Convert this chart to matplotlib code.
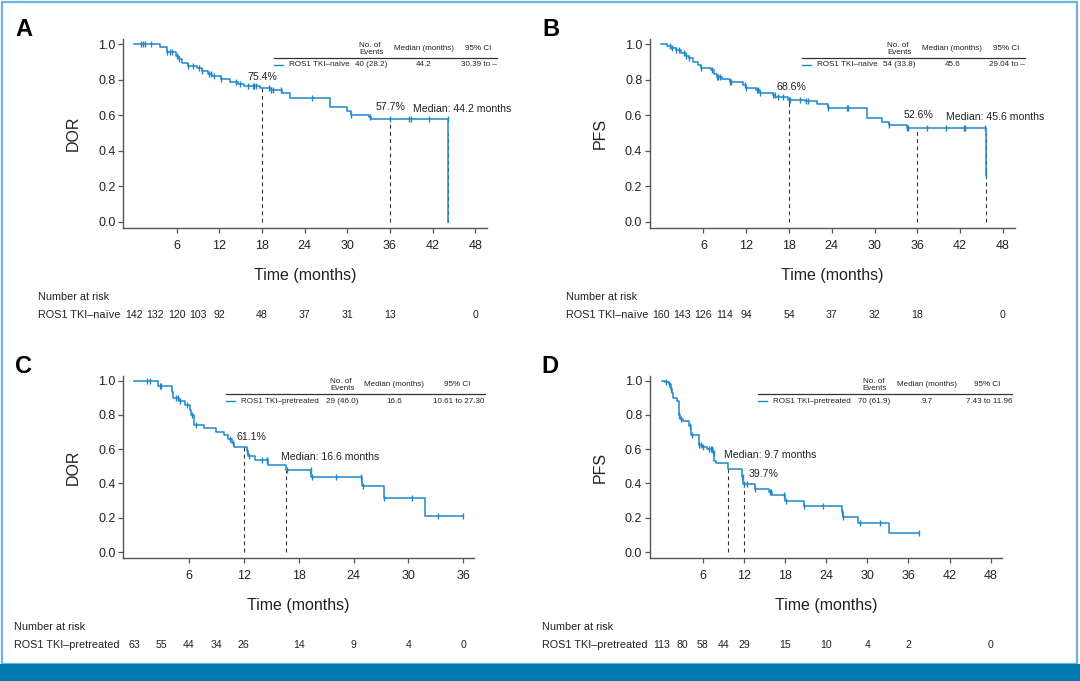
"""
Kaplan-Meier panels: DOR and PFS for ROS1 TKI-naive (A, B) and
ROS1 TKI-pretreated (C, D) patients, with number-at-risk tables.
"""

import matplotlib
matplotlib.use("Agg")
import matplotlib.pyplot as plt
import matplotlib.transforms as mtransforms
import numpy as np
from matplotlib import font_manager
from matplotlib.patches import Rectangle

W, H = 1080, 681
CURVE_COLOR = "#1f87c9"
FRAME_COLOR = "#6cb4dc"
BAND_COLOR = "#0077ae"
TEXT_COLOR = "#222222"

# ---- Panel A: DOR, TKI-naive ----
A_TIMES = [0, 3.6, 4.6, 5.9, 6.3, 6.8, 7.6, 8.8, 9.5, 10.4, 11.0, 12.2, 13.5,
           14.6, 15.5, 17.7, 19.2, 20.8, 22.0, 27.6, 30.0, 30.5, 33.1, 33.3, 44.2]
A_SURV = [1.0, 0.985, 0.955, 0.935, 0.915, 0.895, 0.880, 0.865, 0.848, 0.830,
          0.820, 0.805, 0.790, 0.775, 0.765, 0.754, 0.740, 0.725, 0.700, 0.645,
          0.625, 0.603, 0.590, 0.577, 0.0]
A_END = 44.2
A_CENSOR = [1.0, 1.3, 1.6, 2.4, 4.6, 5.0, 5.4, 6.0, 6.4, 7.6, 8.3, 9.2, 9.6,
            10.6, 10.8, 11.3, 12.3, 14.3, 14.9, 16.0, 16.7, 16.9, 17.2, 19.0,
            19.3, 19.5, 20.7, 25.0, 30.5, 33.2, 36.0, 38.7, 38.9, 41.5, 44.15]
A_DASH_X = [18, 36, 44.2]
A_DASH_Y = [0.754, 0.577, 0.5]
A_NOTES = ["75.4%", "57.7%", "Median: 44.2 months"]
A_NOTE_X = [18.1, 36.1, 39.3]
A_NOTE_Y = [0.818, 0.649, 0.634]
A_RISK_T = [0, 3, 6, 9, 12, 18, 24, 30, 36, 48]
A_RISK = [142, 132, 120, 103, 92, 48, 37, 31, 13, 0]
A_LEGEND = ["ROS1 TKI\u2013na\u00efve", "40 (28.2)", "44.2", "30.39 to \u2013"]

# ---- Panel B: PFS, TKI-naive ----
B_TIMES = [0, 0.9, 1.5, 2.2, 2.9, 3.5, 4.0, 4.6, 5.2, 5.6, 7.0, 7.5, 7.9, 8.6,
           9.7, 11.6, 12.0, 13.4, 13.9, 15.8, 16.1, 17.9, 20.3, 21.9, 23.4,
           28.9, 31.0, 32.0, 34.5, 45.6]
B_SURV = [1.0, 0.99, 0.98, 0.965, 0.95, 0.935, 0.92, 0.90, 0.885, 0.865,
          0.855, 0.835, 0.815, 0.805, 0.785, 0.770, 0.752, 0.745, 0.725,
          0.715, 0.705, 0.686, 0.678, 0.662, 0.640, 0.585, 0.565, 0.548,
          0.526, 0.263]
B_END = 45.6
B_CENSOR = [1.3, 1.6, 2.2, 2.5, 3.2, 3.5, 4.0, 5.6, 7.2, 7.9, 8.1, 8.3, 9.7,
            9.8, 11.8, 12.0, 13.5, 13.7, 14.0, 15.8, 16.0, 16.5, 17.2, 18.0,
            18.2, 19.6, 20.4, 20.6, 23.5, 26.2, 26.3, 32.0, 34.5, 34.7, 37.3,
            40.0, 42.6, 42.7, 45.55, 45.6]
B_DASH_X = [18, 36, 45.6]
B_DASH_Y = [0.686, 0.526, 0.5]
B_NOTES = ["68.6%", "52.6%", "Median: 45.6 months"]
B_NOTE_X = [18.3, 36.2, 40.0]
B_NOTE_Y = [0.761, 0.602, 0.589]
B_RISK_T = [0, 3, 6, 9, 12, 18, 24, 30, 36, 48]
B_RISK = [160, 143, 126, 114, 94, 54, 37, 32, 18, 0]
B_LEGEND = ["ROS1 TKI\u2013na\u00efve", "54 (33.8)", "45.6", "29.04 to \u2013"]

# ---- Panel C: DOR, TKI-pretreated ----
C_TIMES = [0, 2.65, 4.15, 4.3, 4.9, 5.6, 6.1, 6.25, 6.6, 7.6, 9.0, 9.8, 10.3,
           10.7, 10.9, 12.3, 12.5, 13.2, 14.6, 16.6, 19.4, 24.9, 27.3, 31.8]
C_SURV = [1.0, 0.968, 0.935, 0.900, 0.878, 0.860, 0.828, 0.798, 0.742, 0.722,
          0.702, 0.680, 0.658, 0.634, 0.611, 0.592, 0.563, 0.537, 0.506,
          0.476, 0.437, 0.385, 0.317, 0.212]
C_END = 36.0
C_CENSOR = [1.4, 1.7, 2.8, 2.9, 4.6, 4.8, 5.0, 5.8, 6.3, 6.8, 10.5, 10.8,
            12.35, 12.6, 14.0, 14.5, 14.55, 16.7, 19.35, 19.45, 22.1, 24.85,
            25.0, 27.35, 30.4, 33.2, 36.0]
C_DASH_X = [12, 16.6]
C_DASH_Y = [0.611, 0.476]
C_NOTES = ["61.1%", "Median: 16.6 months"]
C_NOTE_X = [12.78, 16.03]
C_NOTE_Y = [0.671, 0.557]
C_RISK_T = [0, 3, 6, 9, 12, 18, 24, 30, 36]
C_RISK = [63, 55, 44, 34, 26, 14, 9, 4, 0]
C_LEGEND = ["ROS1 TKI\u2013pretreated", "29 (46.0)", "16.6", "10.61 to 27.30"]

# ---- Panel D: PFS, TKI-pretreated ----
D_TIMES = [0, 0.5, 1.0, 1.3, 1.5, 1.7, 2.3, 2.6, 2.7, 3.1, 4.0, 4.25, 4.3,
           5.4, 5.5, 5.9, 6.6, 7.45, 7.65, 7.95, 9.7, 11.7, 11.9, 13.6, 15.6,
           16.1, 18.0, 20.7, 26.3, 26.4, 28.7, 33.1]
D_SURV = [1.0, 0.99, 0.977, 0.95, 0.93, 0.90, 0.88, 0.80, 0.775, 0.763,
          0.735, 0.705, 0.68, 0.66, 0.625, 0.61, 0.60, 0.575, 0.53, 0.52,
          0.485, 0.44, 0.397, 0.367, 0.35, 0.333, 0.295, 0.268, 0.235, 0.205,
          0.171, 0.113]
D_END = 37.5
D_CENSOR = [0.6, 1.0, 1.3, 2.6, 2.8, 4.1, 4.4, 5.5, 5.8, 6.0, 6.9, 7.2, 7.4,
            7.6, 11.8, 12.0, 12.4, 13.6, 15.8, 16.0, 17.9, 18.1, 20.7, 23.6,
            26.3, 26.45, 29.0, 31.8, 37.5]
D_DASH_X = [9.7, 12]
D_DASH_Y = [0.485, 0.397]
D_NOTES = ["Median: 9.7 months", "39.7%"]
D_NOTE_X = [9.16, 12.66]
D_NOTE_Y = [0.565, 0.453]
D_RISK_T = [0, 3, 6, 9, 12, 18, 24, 30, 36, 48]
D_RISK = [113, 80, 58, 44, 29, 15, 10, 4, 2, 0]
D_LEGEND = ["ROS1 TKI\u2013pretreated", "70 (61.9)", "9.7", "7.43 to 11.96"]

LEGEND_HEADER = ["No. of\nEvents", "Median (months)", "95% CI"]
Y_TICKS = [0.0, 0.2, 0.4, 0.6, 0.8, 1.0]

available = {f.name for f in font_manager.fontManager.ttflist}
BASE_FONT = "Liberation Sans" if "Liberation Sans" in available else "DejaVu Sans"
if "Liberation Sans Narrow" in available:
    LABEL_FONT, LABEL_SIZE = "Liberation Sans Narrow", 14
else:
    LABEL_FONT, LABEL_SIZE = BASE_FONT, 11.5

plt.rcParams["font.family"] = [BASE_FONT, "DejaVu Sans"]
LEG_SIZE = 5.8


def fx(px):
    return px / W


def fy(py):
    return 1 - py / H


def step_at(times, surv, t):
    """Survival value of the step curve at time t."""
    idx = np.searchsorted(np.asarray(times), t, side="right") - 1
    return np.asarray(surv)[idx]


def draw_panel(fig, p):
    left, top, right, bottom = p["box"]
    ax = fig.add_axes([fx(left), fy(bottom), fx(right - left), (bottom - top) / H])

    times = list(p["times"]) + [p["end"]]
    surv = list(p["surv"]) + [p["surv"][-1]]
    ax.step(times, surv, where="post", color=CURVE_COLOR, lw=1.1, zorder=3)

    cens_y = [step_at(p["times"], p["surv"], t) for t in p["censor"]]
    ax.plot(p["censor"], cens_y, ls="none", marker="|", ms=5, mew=1.0,
            color=CURVE_COLOR, zorder=4)

    for x, y in zip(p["dash_x"], p["dash_y"]):
        ax.plot([x, x], [0, y], color="#333333", lw=0.8, ls=(0, (3.5, 3)), zorder=2)

    for txt, x, y in zip(p["notes"], p["note_x"], p["note_y"]):
        ha = "left" if txt.startswith("Median") or txt == "39.7%" and p["letter"] == "D" else "center"
        ax.text(x, y, txt, ha=ha, va="center", fontsize=7.6, color=TEXT_COLOR)

    ax.set_xlim(*p["xlim"])
    ax.set_ylim(-0.036, 1.028)
    ax.set_xticks(p["xticks"])
    ax.set_yticks(Y_TICKS)
    ax.set_yticklabels([f"{v:.1f}" for v in Y_TICKS])
    for side in ("top", "right"):
        ax.spines[side].set_visible(False)
    for side in ("left", "bottom"):
        ax.spines[side].set_color("#555555")
        ax.spines[side].set_linewidth(1.0)
    ax.tick_params(axis="both", labelsize=9, colors="#555555", labelcolor=TEXT_COLOR,
                   length=3.5, width=0.9, direction="out")
    ax.tick_params(axis="x", pad=5)
    ax.tick_params(axis="y", pad=2)

    # axis labels, panel letter
    cx = (left + right) / 2
    fig.text(fx(cx), fy(bottom + 47), "Time (months)", ha="center", va="center",
             fontsize=LABEL_SIZE, family=LABEL_FONT, color=TEXT_COLOR)
    fig.text(fx(left - 50), fy((top + bottom) / 2 + 0), p["ylabel"], rotation=90,
             ha="center", va="center", fontsize=LABEL_SIZE, family=LABEL_FONT,
             color=TEXT_COLOR)
    fig.text(fx(p["letter_x"]), fy(top - 3), p["letter"], ha="left", va="baseline",
             fontsize=17, fontweight="bold", color="black")

    # inline legend table
    lo = p["legend_off"]
    hy = top
    fig.text(fx(right + lo[2]), fy(hy + 9.5), LEGEND_HEADER[0], ha="left", va="center",
             fontsize=LEG_SIZE, color=TEXT_COLOR, linespacing=1.05)
    fig.text(fx(right + lo[4]), fy(hy + 9.2), LEGEND_HEADER[1], ha="center", va="center",
             fontsize=LEG_SIZE, color=TEXT_COLOR)
    fig.text(fx(right + lo[5]), fy(hy + 9.2), LEGEND_HEADER[2], ha="center", va="center",
             fontsize=LEG_SIZE, color=TEXT_COLOR)
    fig.add_artist(plt.Line2D([fx(right + lo[0]), fx(right + lo[6])],
                              [fy(hy + 18.7), fy(hy + 18.7)],
                              color="#333333", lw=0.9))
    fig.add_artist(plt.Line2D([fx(right + lo[0]), fx(right + lo[0] + 9)],
                              [fy(hy + 25.7), fy(hy + 25.7)],
                              color=CURVE_COLOR, lw=1.0))
    row = p["legend"]
    fig.text(fx(right + lo[1]), fy(hy + 25.7), row[0], ha="left", va="center",
             fontsize=LEG_SIZE, color=TEXT_COLOR)
    fig.text(fx(right + lo[3]), fy(hy + 25.7), row[1], ha="left", va="center",
             fontsize=LEG_SIZE, color=TEXT_COLOR)
    fig.text(fx(right + lo[4]), fy(hy + 25.7), row[2], ha="center", va="center",
             fontsize=LEG_SIZE, color=TEXT_COLOR)
    fig.text(fx(right + lo[6]), fy(hy + 25.7), row[3], ha="right", va="center",
             fontsize=LEG_SIZE, color=TEXT_COLOR)

    # number at risk
    rx, ry = p["risk_xy"]
    fig.text(fx(rx), fy(ry), "Number at risk", ha="left", va="center",
             fontsize=7.8, color=TEXT_COLOR)
    fig.text(fx(rx), fy(ry + 17.7), row[0], ha="left", va="center",
             fontsize=7.8, color=TEXT_COLOR)
    trans = mtransforms.blended_transform_factory(ax.transData, fig.transFigure)
    for t, n in zip(p["risk_t"], p["risk"]):
        ax.text(t, fy(ry + 17.7), str(n), transform=trans, ha="center", va="center",
                fontsize=7.6, color=TEXT_COLOR, clip_on=False)
    return ax


def main():
    fig = plt.figure(figsize=(W / 100, H / 100), dpi=100)

    # page frame and bottom band
    fig.add_artist(Rectangle((fx(2), fy(664)), fx(1077.3 - 2), (664 - 2) / H,
                             transform=fig.transFigure, fill=False,
                             edgecolor=FRAME_COLOR, lw=1.6))
    fig.add_artist(Rectangle((0, 0), 1, (H - 664) / H, transform=fig.transFigure,
                             facecolor=BAND_COLOR, edgecolor="none"))

    ticks48 = [6, 12, 18, 24, 30, 36, 42, 48]
    naive_off = [-212.7, -197.7, -127.7, -131.7, -62.7, -9, 10]
    panels = [
        dict(letter="A", ylabel="DOR", box=(123.3, 39.3, 486.7, 228.3), letter_x=15,
             times=A_TIMES, surv=A_SURV, end=A_END, censor=A_CENSOR,
             dash_x=A_DASH_X, dash_y=A_DASH_Y, notes=A_NOTES, note_x=A_NOTE_X,
             note_y=A_NOTE_Y, xlim=(-1.5, 49.6), xticks=ticks48,
             risk_t=A_RISK_T, risk=A_RISK, risk_xy=(38.3, 297.3),
             legend=A_LEGEND, legend_off=naive_off),
        dict(letter="B", ylabel="PFS", box=(650, 39.3, 1015, 228.3), letter_x=542.7,
             times=B_TIMES, surv=B_SURV, end=B_END, censor=B_CENSOR,
             dash_x=B_DASH_X, dash_y=B_DASH_Y, notes=B_NOTES, note_x=B_NOTE_X,
             note_y=B_NOTE_Y, xlim=(-1.5, 49.7), xticks=ticks48,
             risk_t=B_RISK_T, risk=B_RISK, risk_xy=(565.7, 297.3),
             legend=B_LEGEND, legend_off=naive_off),
        dict(letter="C", ylabel="DOR", box=(123.3, 375.7, 474, 558.3), letter_x=15,
             times=C_TIMES, surv=C_SURV, end=C_END, censor=C_CENSOR,
             dash_x=C_DASH_X, dash_y=C_DASH_Y, notes=C_NOTES, note_x=C_NOTE_X,
             note_y=C_NOTE_Y, xlim=(-1.18, 37.17), xticks=[6, 12, 18, 24, 30, 36],
             risk_t=C_RISK_T, risk=C_RISK, risk_xy=(14, 627.3),
             legend=C_LEGEND, legend_off=[-248.3, -233.3, -144, -148, -79.7, -17.3, 10.5]),
        dict(letter="D", ylabel="PFS", box=(650, 375.7, 1001.7, 558.3), letter_x=541.7,
             times=D_TIMES, surv=D_SURV, end=D_END, censor=D_CENSOR,
             dash_x=D_DASH_X, dash_y=D_DASH_Y, notes=D_NOTES, note_x=D_NOTE_X,
             note_y=D_NOTE_Y, xlim=(-1.7, 49.6), xticks=ticks48,
             risk_t=D_RISK_T, risk=D_RISK, risk_xy=(541.7, 627.3),
             legend=D_LEGEND, legend_off=[-243.4, -228.4, -139, -143.4, -75, -14.4, 10.6]),
    ]
    for p in panels:
        draw_panel(fig, p)

    fig.savefig("out.png", dpi=100)
    plt.close(fig)


if __name__ == "__main__":
    main()
